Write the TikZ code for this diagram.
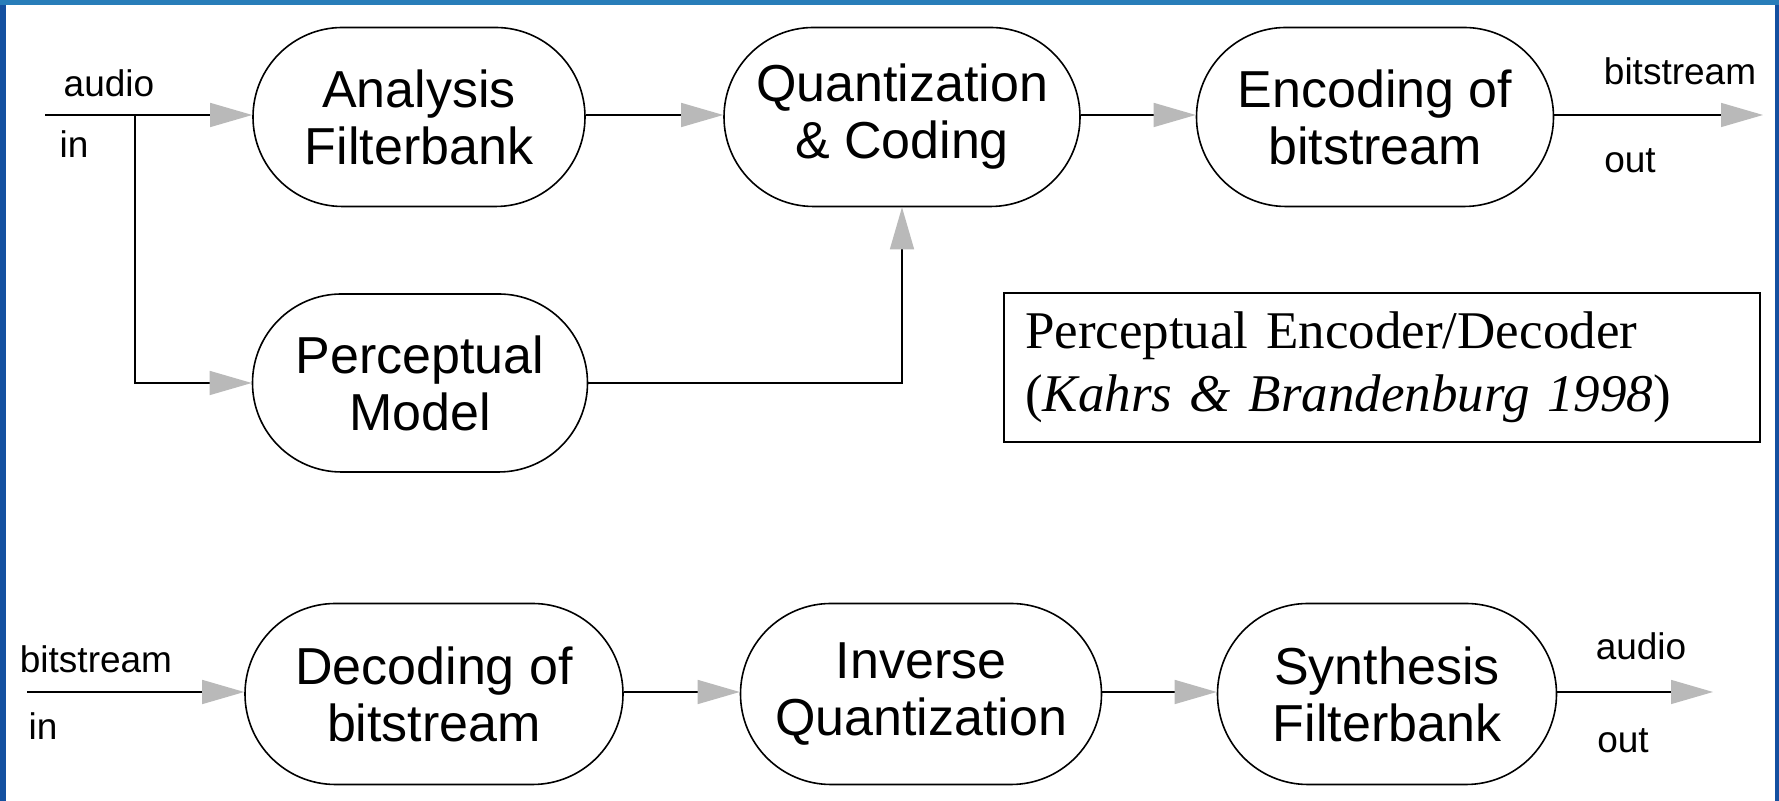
\documentclass[tikz,border=0pt]{standalone}
\usepackage{fontspec}
\setmainfont{Liberation Serif}
\newfontfamily\blockfont{Liberation Sans}
\usetikzlibrary{shapes.misc,arrows.meta}
\definecolor{slideblue}{HTML}{287DB9}
\definecolor{sideblue}{HTML}{1450A0}

\begin{document}
\begin{tikzpicture}[x=0.5pt, y=0.5pt,
  block/.style={draw, rounded rectangle, line width=0.8pt, minimum height=89.5pt,
    align=center, inner sep=0pt, font=\blockfont\fontsize{26}{28.5}\selectfont},
  io/.style={anchor=base, font=\blockfont\fontsize{18.5}{20}\selectfont},
  flow/.style={line width=0.7pt, -{Triangle[length=21pt, width=12pt, color=gray!55]}},
  citebox/.style={draw, line width=1pt, align=left, text width=357pt, minimum width=378pt,
    minimum height=74.5pt, inner xsep=10.5pt, font=\fontsize{26.5}{31.5}\selectfont}]
  \useasboundingbox (0,0) rectangle (1779,801);
  \fill[slideblue] (0,0) rectangle (1779,801);
  \fill[sideblue] (0,0) rectangle (6,796);
  \fill[sideblue] (1775,0) rectangle (1779,796);
  \fill[white] (6,0) rectangle (1775,796);

  % encoder
  \node[block, minimum width=166pt] (ana) at (419,684) {Analysis\\Filterbank};
  \node[block, minimum width=178pt] (qua) at (902,684) {Quantization\\\& Coding};
  \node[block, minimum width=178.5pt] (enc) at (1375,684) {Encoding of\\bitstream};
  \node[block, minimum width=167.5pt, minimum height=89pt] (per) at (420,418) {Perceptual\\Model};

  \coordinate (ain) at (45,686);
  \coordinate (split) at (135,686);
  \coordinate (bout) at (1763,686);

  \draw[flow] (ain) -- (ana.west |- ain);
  \draw[flow] (split) |- (per.west);
  \draw[flow] (ana.east |- ain) -- (qua.west |- ain);
  \draw[flow] (qua.east |- ain) -- (enc.west |- ain);
  \draw[flow] (enc.east |- ain) -- (bout);
  \draw[flow] (per.east) -| (qua.south);

  \node[io] (encaudio) at (109,704) {audio};
  \node[io] (encin) at (74,643) {in};
  \node[io] (encbits) at (1680,716) {bitstream};
  \node[io] (encout) at (1630,628) {out};

  \node[citebox] (cite) at (1382,433.5) {Perceptual Encoder/Decoder\\(\textit{Kahrs \& Brandenburg 1998})};

  % decoder
  \node[block, minimum width=189pt, minimum height=90.5pt] (dec) at (434,107) {Decoding of\\bitstream};
  \node[block, minimum width=180.5pt, minimum height=90.5pt] (inv) at (921,107) {Inverse\\Quantization};
  \node[block, minimum width=169.5pt, minimum height=90.5pt] (syn) at (1387,107) {Synthesis\\Filterbank};

  \coordinate (bin) at (27,109);
  \coordinate (aout) at (1713,109);

  \draw[flow] (bin) -- (dec.west |- bin);
  \draw[flow] (dec.east |- bin) -- (inv.west |- bin);
  \draw[flow] (inv.east |- bin) -- (syn.west |- bin);
  \draw[flow] (syn.east |- bin) -- (aout);

  \node[io] (decbits) at (96,128) {bitstream};
  \node[io] (decin) at (43,61) {in};
  \node[io] (decaudio) at (1641,141) {audio};
  \node[io] (decout) at (1623,48) {out};
\end{tikzpicture}
\end{document}
